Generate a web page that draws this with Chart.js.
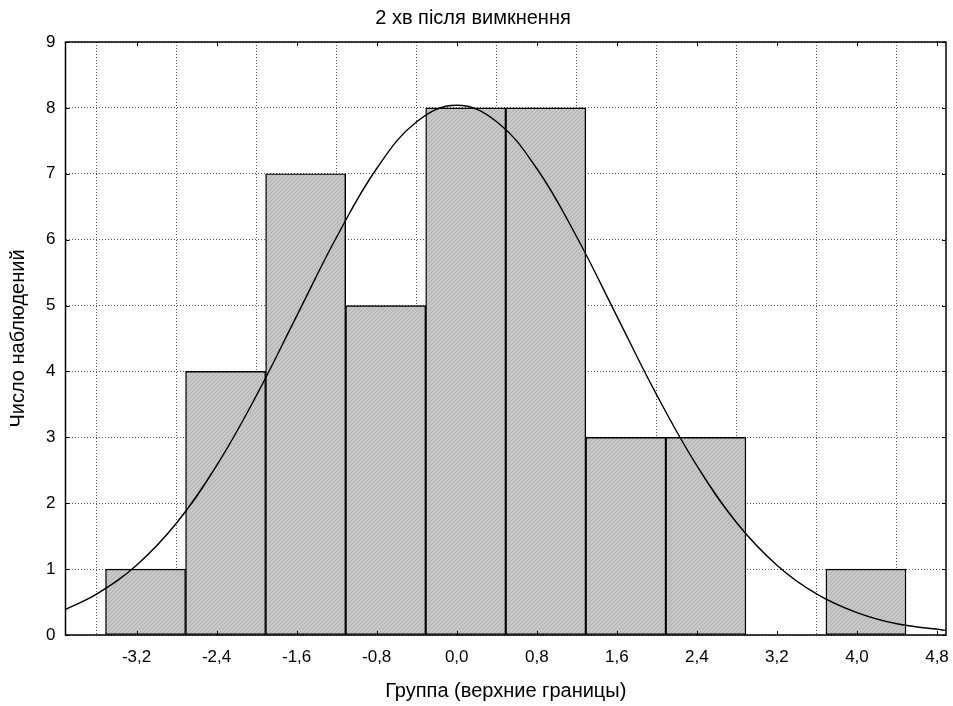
<!DOCTYPE html>
<html>
<head>
<meta charset="utf-8">
<script src="https://cdn.jsdelivr.net/npm/chart.js@4.4.0/dist/chart.umd.min.js"></script>
<style>
    body { margin: 0; background: #fff; }
</style>
</head>
<body>
<canvas id="chart" width="953" height="706"></canvas>
<script>
// bin centres (bins of width 0.8) and counts
const binCenters = [-3.11, -2.31, -1.51, -0.71, 0.09, 0.89, 1.69, 2.49, 3.29, 4.09];
const counts = [1, 4, 7, 5, 8, 8, 3, 3, 0, 1];

// fitted normal curve
const curveX = [-3.91, -3.6, -3.2, -2.8, -2.4, -2.0, -1.6, -1.2, -0.8, -0.4, 0.0, 0.4, 0.8, 1.2, 1.6, 2.0, 2.4, 2.8, 3.2, 3.6, 4.0, 4.4, 4.89];
const curveY = [0.39, 0.62, 1.06, 1.70, 2.57, 3.64, 4.84, 6.04, 7.08, 7.79, 8.04, 7.79, 7.08, 6.04, 4.84, 3.64, 2.57, 1.70, 1.06, 0.62, 0.34, 0.17, 0.07];

const xTicks = [-3.2, -2.4, -1.6, -0.8, 0.0, 0.8, 1.6, 2.4, 3.2, 4.0, 4.8];

function hatch() {
    let c = document.createElement('canvas');
    c.width = 4; c.height = 4;
    let g = c.getContext('2d');
    g.fillStyle = '#c8c8c8';
    g.fillRect(0, 0, 4, 4);
    g.fillStyle = '#aeaeae';
    for (let i = 0; i < 4; i++)
        g.fillRect(i, 3 - i, 1, 1);
    return g.createPattern(c, 'repeat');
}

// box round the plot and small inward ticks
const frame = {
    id: 'frame',
    afterDatasetsDraw(chart) {
        let a = chart.chartArea, ctx = chart.ctx;
        ctx.save();
        ctx.strokeStyle = '#000';
        ctx.lineWidth = 1;
        ctx.beginPath();
        chart.scales.x.ticks.forEach(t => {
            let px = Math.round(chart.scales.x.getPixelForValue(t.value)) + 0.5;
            ctx.moveTo(px, a.bottom); ctx.lineTo(px, a.bottom - 4);
            ctx.moveTo(px, a.top); ctx.lineTo(px, a.top + 4);
        });
        chart.scales.y.ticks.forEach(t => {
            let py = Math.round(chart.scales.y.getPixelForValue(t.value)) + 0.5;
            ctx.moveTo(a.left, py); ctx.lineTo(a.left + 4, py);
            ctx.moveTo(a.right, py); ctx.lineTo(a.right - 4, py);
        });
        ctx.stroke();
        ctx.lineWidth = 1.5;
        ctx.strokeRect(a.left, a.top, a.right - a.left, a.bottom - a.top);
        ctx.restore();
    }
};

const family = 'Arial, "Liberation Sans", sans-serif';

let ctx = document.getElementById('chart').getContext('2d');
new Chart(ctx, {
    type: 'bar',
    data: {
        datasets: [{
            type: 'line',
            data: curveX.map((x, i) => ({ x: x, y: curveY[i] })),
            borderColor: '#000',
            borderWidth: 1.4,
            pointRadius: 0,
            tension: 0.4,
            fill: false,
            order: 0
        }, {
            data: binCenters.map((x, i) => ({ x: x, y: counts[i] })),
            backgroundColor: hatch(),
            borderColor: '#000',
            borderWidth: 1.4,
            borderSkipped: false,
            barPercentage: 1,
            categoryPercentage: 1,
            order: 1
        }]
    },
    options: {
        responsive: false,
        animation: false,
        layout: { padding: { right: 7, top: 0, left: 0, bottom: 0 } },
        plugins: {
            legend: { display: false },
            tooltip: { enabled: false },
            title: {
                display: true,
                text: '2 хв після вимкнення',
                color: '#000',
                font: { family: family, size: 20, weight: 'normal' },
                padding: { top: 6, bottom: 12 }
            }
        },
        scales: {
            x: {
                type: 'linear',
                min: -3.91,
                max: 4.89,
                offset: false,
                afterBuildTicks: s => { s.ticks = xTicks.map(v => ({ value: v })); },
                afterFit: s => { s.height = 71; s.paddingLeft = 0; s.paddingRight = 0; },
                ticks: {
                    color: '#000',
                    font: { family: family, size: 17 },
                    padding: 12,
                    maxRotation: 0,
                    callback: v => v.toFixed(1).replace('.', ',')
                },
                grid: { color: '#555', drawTicks: false },
                border: { display: false, dash: [1, 2] },
                title: {
                    display: true,
                    text: 'Группа (верхние границы)',
                    color: '#000',
                    font: { family: family, size: 20 },
                    padding: { top: 4, bottom: 3 }
                }
            },
            y: {
                min: 0,
                max: 9,
                afterFit: s => { s.width = 65.5; },
                ticks: { stepSize: 1, color: '#000', font: { family: family, size: 17 }, padding: 10 },
                grid: { color: '#555', drawTicks: false },
                border: { display: false, dash: [1, 2] },
                title: {
                    display: true,
                    text: 'Число наблюдений',
                    color: '#000',
                    font: { family: family, size: 20 },
                    padding: { top: 6, bottom: 4 }
                }
            }
        }
    },
    plugins: [frame]
});
</script>
</body>
</html>
